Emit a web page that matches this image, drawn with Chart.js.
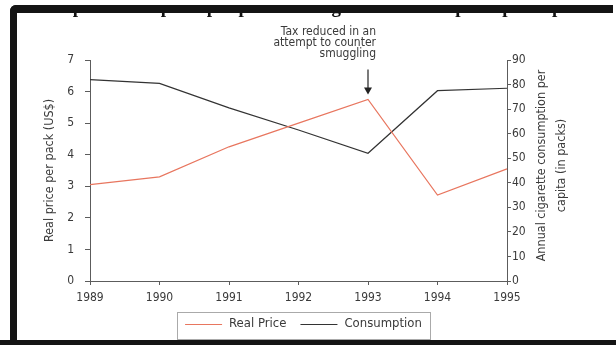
<!DOCTYPE html>
<html>
<head>
<meta charset="utf-8">
<script src="https://cdn.jsdelivr.net/npm/chart.js@4.4.0/dist/chart.umd.min.js"></script>
<style>
html, body { margin: 0; padding: 0; background: #fff; }
#wrap { position: relative; width: 616px; height: 345px; overflow: hidden; background: #fff; }
#chart { position: absolute; left: 0; top: 0; }
.band { position: absolute; background: #141414; }
.cover { position: absolute; background: #fff; }
#title { position: absolute; left: 40px; top: -4px; white-space: nowrap;
  font: bold 19px "Liberation Serif", serif; color: #111; line-height: 22px; }
</style>
</head>
<body>
<div id="wrap">
  <canvas id="chart" width="616" height="345"></canvas>
  <div id="title">Graph 1: Real price per pack and cigarette consumption per capita</div>
  <div class="cover" style="left:0;top:0;width:616px;height:5px;"></div>
  <div class="cover" style="left:0;top:0;width:10px;height:345px;"></div>
  <div class="band" style="left:10px;top:5px;width:603px;height:8px;border-top-left-radius:6px;"></div>
  <div class="band" style="left:10px;top:5px;width:7px;height:340px;border-top-left-radius:6px;"></div>
  <div class="band" style="left:0;top:340px;width:616px;height:5px;"></div>
</div>
<script>
const FONT = '"Liberation Sans Narrow", "Arial Narrow", "DejaVu Sans Condensed", sans-serif';

const years = ['1989', '1990', '1991', '1992', '1993', '1994', '1995'];
const realPrice = [3.05, 3.3, 4.25, 5.0, 5.75, 2.72, 3.55];
const consumption = [82, 80.5, 70.5, 61.5, 52, 77.5, 78.5];
const priceTicks = [0, 1, 2, 3, 4, 5, 6, 7];
const consumptionTicks = [0, 10, 20, 30, 40, 50, 60, 70, 80, 90];
const noteLines = ['Tax reduced in an', 'attempt to counter', 'smuggling'];
const noteYear = '1993';
const rightTitle = ['Annual cigarette consumption per', 'capita (in packs)'];

const priceColor = '#e8765f';
const consColor = '#333333';
const axisColor = '#5c5c5c';
const textColor = '#3a3a3a';

Chart.defaults.font.family = FONT;
Chart.defaults.color = textColor;

// annotation, right-hand title and boxed legend
const extras = {
    id: 'extras',
    afterDraw(chart) {
        const ctx = chart.ctx;
        const area = chart.chartArea;
        const xs = chart.scales.x;
        const ys = chart.scales.y;

        // arrow to the 1993 price peak
        const i = years.indexOf(noteYear);
        const px = xs.getPixelForValue(i);
        const py = ys.getPixelForValue(realPrice[i]);
        ctx.save();
        ctx.strokeStyle = '#222';
        ctx.fillStyle = '#222';
        ctx.lineWidth = 1.2;
        ctx.beginPath();
        ctx.moveTo(px, py - 30);
        ctx.lineTo(px, py - 11);
        ctx.stroke();
        ctx.beginPath();
        ctx.moveTo(px - 4, py - 12);
        ctx.lineTo(px + 4, py - 12);
        ctx.lineTo(px, py - 5);
        ctx.closePath();
        ctx.fill();
        ctx.font = '12px ' + FONT;
        ctx.fillStyle = textColor;
        ctx.textAlign = 'right';
        ctx.textBaseline = 'middle';
        noteLines.forEach((t, k) => ctx.fillText(t, px + 8, py - 68 + k * 11));
        ctx.restore();

        // right axis title, reading upward
        ctx.save();
        ctx.font = '12.5px ' + FONT;
        ctx.fillStyle = textColor;
        ctx.textAlign = 'center';
        ctx.textBaseline = 'middle';
        const cy = (area.top + area.bottom) / 2 - 5;
        rightTitle.forEach((t, k) => {
            ctx.save();
            ctx.translate(area.right + 35 + k * 20, cy);
            ctx.rotate(-Math.PI / 2);
            ctx.fillText(t, 0, 0);
            ctx.restore();
        });
        ctx.restore();

        // legend in a box under the axis
        ctx.save();
        ctx.font = '13px ' + FONT;
        const sets = chart.data.datasets;
        const lineLen = 37, gapText = 7, gapItem = 14, padX = 8;
        let w = padX * 2;
        sets.forEach((d, k) => {
            w += lineLen + gapText + ctx.measureText(d.label).width;
            if (k < sets.length - 1) w += gapItem;
        });
        const cx = (area.left + area.right) / 2 + 5;
        const top = area.bottom + 31;
        const h = 27;
        let x = cx - w / 2;
        ctx.strokeStyle = '#555';
        ctx.lineWidth = 1;
        ctx.setLineDash([1, 1]);
        ctx.strokeRect(Math.round(x) + 0.5, top + 0.5, Math.round(w), h);
        ctx.setLineDash([]);
        x += padX;
        const my = top + 12;
        sets.forEach(d => {
            ctx.strokeStyle = d.borderColor;
            ctx.lineWidth = 1;
            ctx.beginPath();
            ctx.moveTo(x, my + 0.5);
            ctx.lineTo(x + lineLen, my + 0.5);
            ctx.stroke();
            x += lineLen + gapText;
            ctx.fillStyle = textColor;
            ctx.textAlign = 'left';
            ctx.textBaseline = 'middle';
            ctx.fillText(d.label, x, my);
            x += ctx.measureText(d.label).width + gapItem;
        });
        ctx.restore();
    }
};

new Chart(document.getElementById('chart'), {
    type: 'line',
    data: {
        labels: years,
        datasets: [{
            label: 'Real Price',
            data: realPrice,
            yAxisID: 'y',
            borderColor: priceColor,
            borderWidth: 1.2,
            pointRadius: 0,
            tension: 0
        }, {
            label: 'Consumption',
            data: consumption,
            yAxisID: 'y1',
            borderColor: consColor,
            borderWidth: 1.2,
            pointRadius: 0,
            tension: 0
        }]
    },
    options: {
        responsive: false,
        animation: false,
        layout: { padding: { left: 38, right: 0, top: 60, bottom: 0 } },
        plugins: {
            legend: { display: false },
            tooltip: { enabled: false }
        },
        scales: {
            x: {
                offset: false,
                border: { color: axisColor, width: 1 },
                grid: { drawOnChartArea: false, color: axisColor, tickLength: 4 },
                ticks: { color: textColor, font: { size: 12 }, padding: 6, maxRotation: 0 },
                afterFit(s) { s.height = 64; }
            },
            y: {
                position: 'left',
                min: 0,
                max: 7,
                afterBuildTicks(s) { s.ticks = priceTicks.map(v => ({ value: v })); },
                border: { color: axisColor, width: 1 },
                grid: { drawOnChartArea: false, color: axisColor, tickLength: 5 },
                ticks: { color: textColor, font: { size: 12 }, padding: 11 },
                title: {
                    display: true,
                    text: 'Real price per pack (US$)',
                    color: textColor,
                    font: { size: 12.5 },
                    padding: { top: 4, bottom: 4 }
                },
                afterFit(s) { s.width = 52; }
            },
            y1: {
                position: 'right',
                min: 0,
                max: 90,
                afterBuildTicks(s) { s.ticks = consumptionTicks.map(v => ({ value: v })); },
                border: { color: axisColor, width: 1 },
                grid: { drawOnChartArea: false, color: axisColor, tickLength: 4 },
                ticks: { color: textColor, font: { size: 12 }, padding: 1 },
                afterFit(s) { s.width = 109; }
            }
        }
    },
    plugins: [extras]
});
</script>
</body>
</html>
